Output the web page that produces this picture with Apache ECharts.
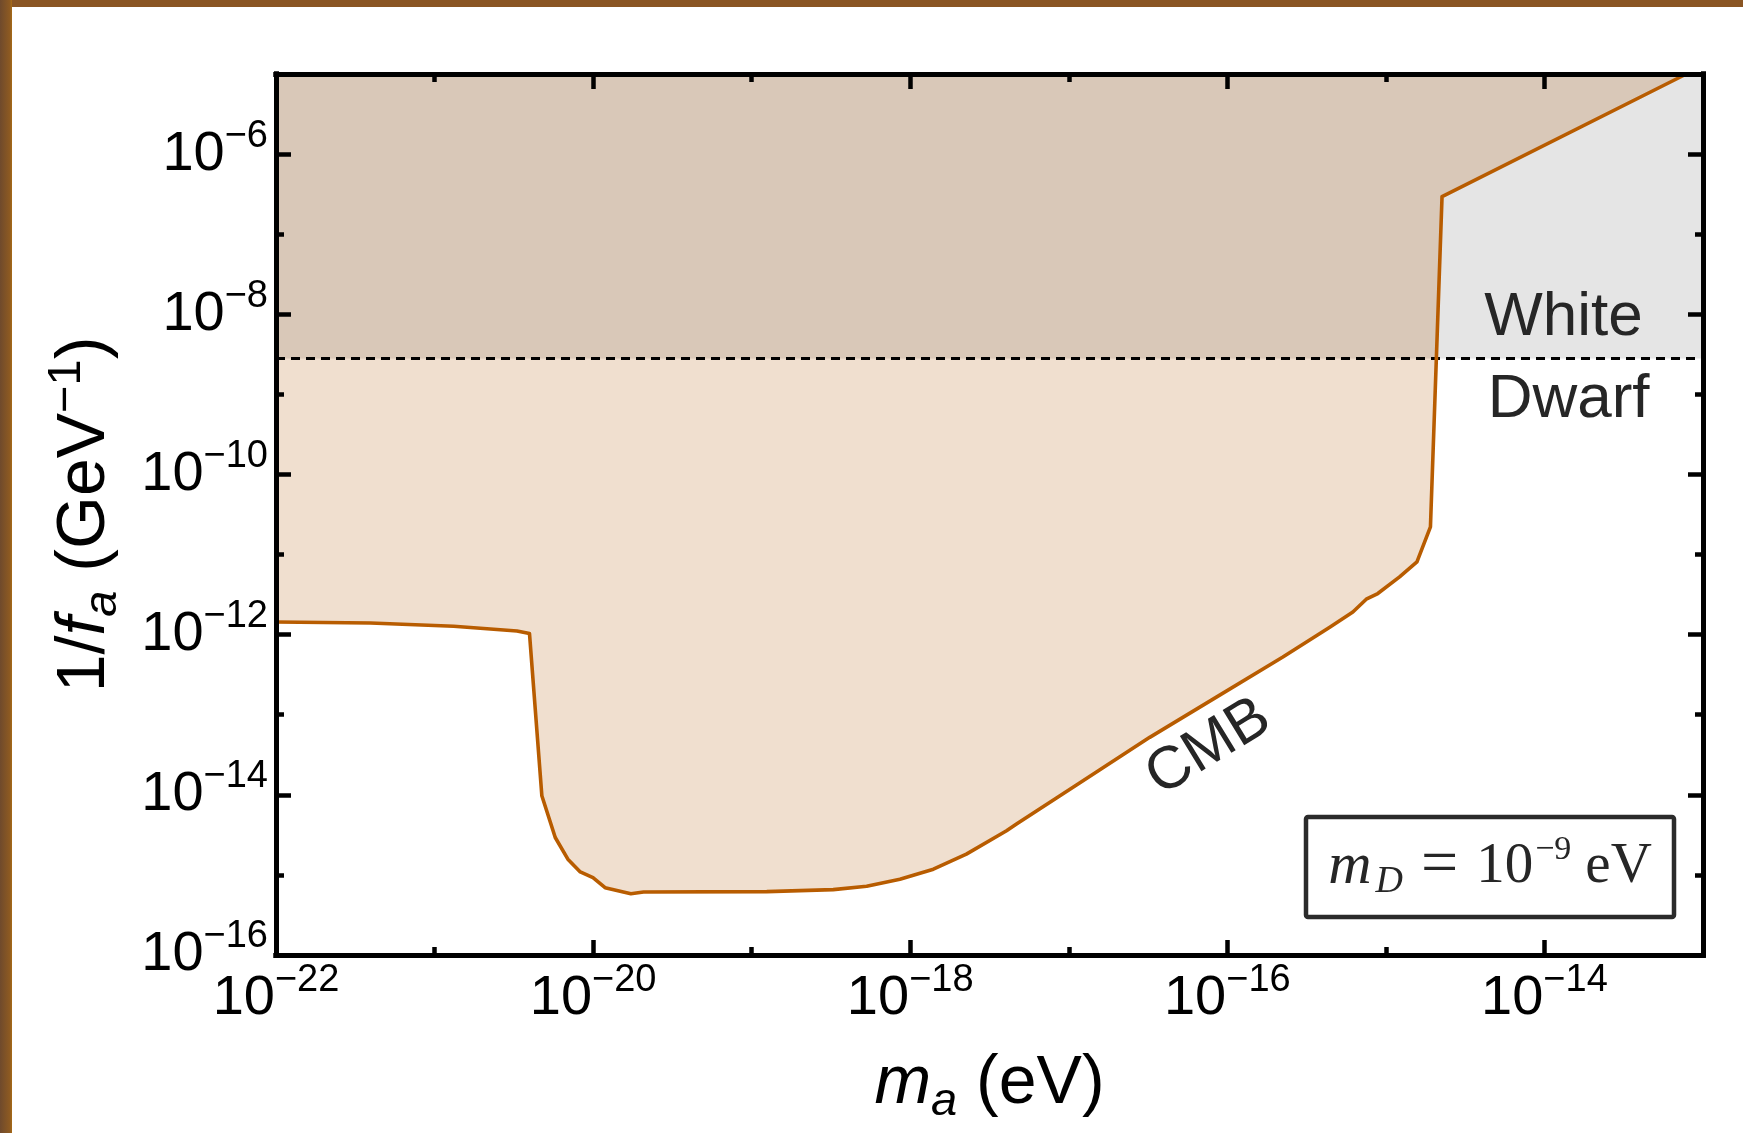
<!DOCTYPE html>
<html>
<head>
<meta charset="utf-8">
<script src="https://cdn.jsdelivr.net/npm/echarts@6/dist/echarts.min.js"></script>
<style>
html,body{margin:0;padding:0;background:#fff;}
#c{width:1743px;height:1133px;}
</style>
</head>
<body>
<div id="c"></div>
<script>
// ---- data ----
const massEV = [1.0e-22, 3.94e-22, 1.32e-21, 3.31e-21, 3.97e-21, 4.75e-21, 5.77e-21, 6.93e-21, 8.30e-21, 9.98e-21,
  1.19e-20, 1.73e-20, 2.08e-20, 1.245e-19, 3.27e-19, 5.31e-19, 8.61e-19, 1.40e-18, 2.26e-18, 4.05e-18,
  4.68e-18, 1.23e-17, 3.24e-17, 8.53e-17, 2.24e-16, 4.45e-16, 6.19e-16, 7.52e-16, 8.89e-16, 1.22e-15,
  1.57e-15, 1.91e-15, 2.26e-15, 7.85e-14];
const cmbBound = [1.44e-12, 1.40e-12, 1.27e-12, 1.11e-12, 1.03e-12, 9.75e-15, 2.93e-15, 1.57e-15, 1.09e-15, 9.25e-16,
  6.93e-16, 5.83e-16, 6.12e-16, 6.18e-16, 6.55e-16, 7.23e-16, 8.83e-16, 1.18e-15, 1.82e-15, 3.56e-15,
  4.32e-15, 1.50e-14, 5.22e-14, 1.66e-13, 5.25e-13, 1.245e-12, 1.92e-12, 2.77e-12, 3.26e-12, 5.26e-12,
  8.11e-12, 2.22e-11, 2.94e-7, 1.0e-5];
const whiteDwarfLimit = 2.8e-9;
const X_RANGE = [1e-22, 1e-13];
const Y_RANGE = [1e-16, 1e-5];
const xMajorTicks = [1e-22, 1e-20, 1e-18, 1e-16, 1e-14];
const xMinorTicks = [1e-21, 1e-19, 1e-17, 1e-15, 1e-13];
const yMajorTicks = [1e-16, 1e-14, 1e-12, 1e-10, 1e-8, 1e-6];
const yMinorTicks = [1e-15, 1e-13, 1e-11, 1e-9, 1e-7, 1e-5];
const labelAnchors = { white: [1.32e-14, 8.95e-9], dwarf: [1.42e-14, 8.55e-10], cmb: [7.62e-17, 3.89e-14] };

// ---- styles ----
const F = '"Liberation Sans", Arial, sans-serif';
const SERIF = '"Liberation Serif", "Times New Roman", serif';
const TXT = '#262626';

const tickRich = {
  b: {fontFamily: F, fontSize: 56, lineHeight: 74, color: '#000'},
  s: {fontFamily: F, fontSize: 38, lineHeight: 38, color: '#000', verticalAlign: 'top'}
};
const tickFmt = v => '{b|10}{s|\u2212' + Math.abs(Math.round(Math.log10(v))) + '}';
const nameRich = {
  n: {fontFamily: F, fontSize: 68, lineHeight: 82, color: '#000'},
  i: {fontFamily: F, fontSize: 68, lineHeight: 82, fontStyle: 'italic', color: '#000'},
  sub: {fontFamily: F, fontSize: 47, lineHeight: 47, fontStyle: 'italic', color: '#000', verticalAlign: 'bottom'},
  sup: {fontFamily: F, fontSize: 47, lineHeight: 42, color: '#000', verticalAlign: 'top'}
};

function mkAxis(dim, position, ticks, len, label) {
  const range = dim === 'x' ? X_RANGE : Y_RANGE;
  const ax = {
    type: 'log', logBase: 10, gridIndex: 0, position: position, z: 10, zlevel: 1,
    min: range[0], max: range[1],
    axisLine: {show: true, onZero: false, lineStyle: {color: '#000', width: 5, cap: 'square'}},
    axisTick: {show: true, inside: true, length: len, customValues: ticks, lineStyle: {color: '#000', width: 4.5}},
    axisLabel: {show: false},
    splitLine: {show: false}, minorTick: {show: false}, minorSplitLine: {show: false},
    axisPointer: {show: false}
  };
  if (label) {
    ax.axisLabel = {show: true, customValues: ticks, formatter: tickFmt, rich: tickRich,
      margin: dim === 'x' ? 7 : 8, showMinLabel: true, showMaxLabel: true};
  }
  return ax;
}

const xAxes = [
  mkAxis('x', 'bottom', xMajorTicks, 15, true),
  mkAxis('x', 'bottom', xMinorTicks, 8, false),
  mkAxis('x', 'top', xMajorTicks, 15, false),
  mkAxis('x', 'top', xMinorTicks, 8, false)
];
Object.assign(xAxes[0], {
  name: '{i|m}{sub|a}{n| (eV)}', nameLocation: 'middle', nameGap: 88,
  nameTextStyle: {rich: nameRich}
});
const yAxes = [
  mkAxis('y', 'left', yMajorTicks, 15, true),
  mkAxis('y', 'left', yMinorTicks, 8, false),
  mkAxis('y', 'right', yMajorTicks, 15, false),
  mkAxis('y', 'right', yMinorTicks, 8, false)
];
Object.assign(yAxes[0], {
  name: '{n|1/}{i|f}{sub|a}{n| (GeV}{sup|\u22121}{n|)}', nameLocation: 'middle', nameGap: 150,
  nameTextStyle: {rich: nameRich}
});

const cmbData = massEV.map((m, k) => [m, cmbBound[k]]);
const wdData = [[X_RANGE[0], whiteDwarfLimit], [X_RANGE[1], whiteDwarfLimit]];

const chart = echarts.init(document.getElementById('c'), null, {renderer: 'canvas'});
chart.setOption({
  animation: false,
  backgroundColor: '#fff',
  grid: {left: 276, right: 40, top: 74, bottom: 178, z: 10, containLabel: false, outerBoundsMode: 'none'},
  xAxis: xAxes,
  yAxis: yAxes,
  series: [
    {id: 'wdFill', type: 'line', data: wdData, z: 1, silent: true, showSymbol: false, symbol: 'none',
      lineStyle: {width: 0, opacity: 0},
      areaStyle: {origin: 'end', color: '#e5e5e5', opacity: 1}},
    {id: 'cmbFill', type: 'line', data: cmbData, z: 2, silent: true, showSymbol: false, symbol: 'none',
      lineStyle: {width: 0, opacity: 0},
      areaStyle: {origin: 'end', color: '#f0dfcf', opacity: 1}},
    {id: 'wdLine', type: 'line', data: wdData, z: 3, silent: true, showSymbol: false, symbol: 'none',
      lineStyle: {color: '#000', width: 3, type: [9, 6]}},
    {id: 'cmbLine', type: 'line', data: cmbData, z: 4, silent: true, showSymbol: false, symbol: 'none',
      lineStyle: {color: '#b85c00', width: 3.6, join: 'round'}}
  ]
});

const toPx = p => chart.convertToPixel({xAxisIndex: 0, yAxisIndex: 0}, p);
const yDash = toPx([X_RANGE[0], whiteDwarfLimit])[1];
const pWhite = toPx(labelAnchors.white), pDwarf = toPx(labelAnchors.dwarf), pCmb = toPx(labelAnchors.cmb);

const legendRich = {
  m: {fontFamily: SERIF, fontSize: 60, lineHeight: 68, fontStyle: 'italic', fill: TXT, color: TXT},
  d: {fontFamily: SERIF, fontSize: 38, lineHeight: 38, fontStyle: 'italic', fill: TXT, color: TXT, verticalAlign: 'bottom', padding: [0, 0, 0, 4]},
  eq: {fontFamily: SERIF, fontSize: 66, lineHeight: 68, fill: TXT, color: TXT, padding: [0, 18, 0, 18]},
  n: {fontFamily: SERIF, fontSize: 57, lineHeight: 68, fill: TXT, color: TXT},
  s: {fontFamily: SERIF, fontSize: 34, lineHeight: 34, fill: TXT, color: TXT, verticalAlign: 'top', padding: [0, 0, 0, 2]},
  u: {fontFamily: SERIF, fontSize: 57, lineHeight: 68, fill: TXT, color: TXT, padding: [0, 0, 0, 14]}
};

chart.setOption({
  series: [{id: 'cmbFill', areaStyle: {origin: 'end', opacity: 1,
    color: new echarts.graphic.LinearGradient(0, yDash - 0.5, 0, yDash + 0.5,
      [{offset: 0, color: '#d9c8b8'}, {offset: 1, color: '#f0dfcf'}], true)}}],
  graphic: {elements: [
    {type: 'rect', z: 200, silent: true, shape: {x: 0, y: 0, width: 1743, height: 7}, style: {fill: '#8a5523'}},
    {type: 'rect', z: 200, silent: true, shape: {x: 0, y: 0, width: 12, height: 1133},
      style: {fill: new echarts.graphic.LinearGradient(0, 0, 1, 0, [
        {offset: 0, color: '#6f4a2c'}, {offset: 0.8, color: '#8d5a22'}, {offset: 1, color: '#a86b16'}])}},
    {type: 'text', z: 150, silent: true, x: pWhite[0], y: pWhite[1],
      style: {text: 'White', fontFamily: F, fontSize: 62, fill: TXT, align: 'center', verticalAlign: 'middle'}},
    {type: 'text', z: 150, silent: true, x: pDwarf[0], y: pDwarf[1],
      style: {text: 'Dwarf', fontFamily: F, fontSize: 62, fill: TXT, align: 'center', verticalAlign: 'middle'}},
    {type: 'text', z: 150, silent: true, x: pCmb[0], y: pCmb[1], rotation: 31.5 * Math.PI / 180,
      style: {text: 'CMB', fontFamily: F, fontSize: 60, fill: TXT, align: 'center', verticalAlign: 'middle'}},
    {type: 'rect', z: 150, silent: true, shape: {x: 1306, y: 817, width: 368, height: 100, r: 2},
      style: {fill: '#fff', stroke: '#2b2b2b', lineWidth: 4.5}},
    {type: 'text', z: 151, silent: true, x: 1490, y: 867,
      style: {text: '{m|m}{d|D}{eq|=}{n|10}{s|\u22129}{u|eV}', rich: legendRich,
        align: 'center', verticalAlign: 'middle'}}
  ]}
});
</script>
</body>
</html>
